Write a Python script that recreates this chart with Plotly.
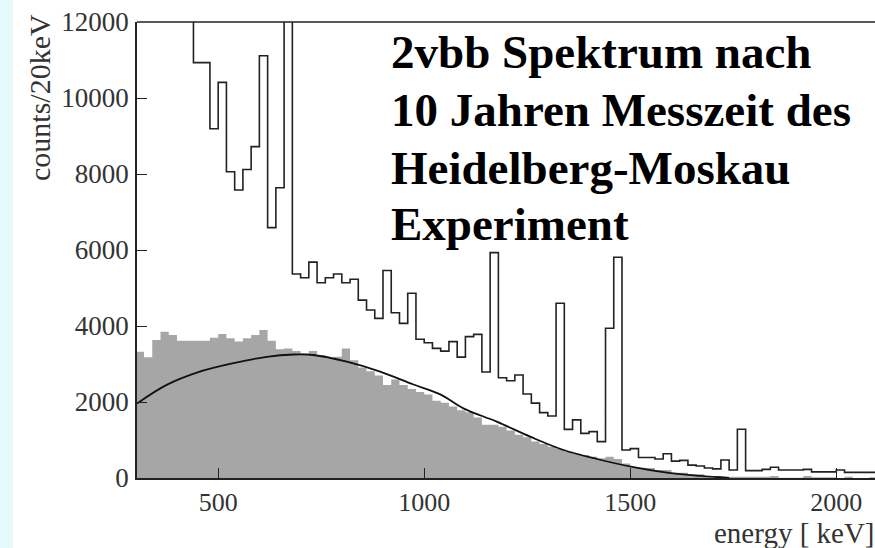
import plotly.graph_objects as go

# ---------------- data ----------------
bin_width = 20
bin_lo = list(range(300, 2100, 20))  # lower bin edges in keV

# total measured spectrum (open histogram); bins above 12000 are off scale
total_counts = [
    15000, 15000, 15000, 15000, 15000, 15000, 15000,          # 300-420 (off scale)
    10930, 10930, 9190, 10410, 8060, 7580, 8120, 8720,        # 440-580
    11110, 6590, 7640, 15000,                                 # 600-660
    5370, 5270, 5680, 5140, 5270, 5370, 5140, 5230,           # 680-820
    4680, 4420, 4200, 5460, 4350, 4070, 4860, 3650,           # 840-980
    3560, 3410, 3340, 3590, 3180, 3720, 3780, 2790,           # 1000-1140
    5930, 2640, 2560, 2710, 2210, 1970, 1720, 1630,           # 1160-1300
    4600, 1280, 1530, 1175, 1220, 956, 3940, 5810,            # 1320-1460
    737, 772, 540, 540, 500, 640, 445, 465,                   # 1480-1620
    340, 316, 265, 240, 474, 211, 1281, 193,                  # 1640-1780
    193, 228, 281, 211, 211, 211, 228, 160,                   # 1800-1940
    160, 160, 211, 149, 149, 149, 149,                        # 1960-2080
]

# 2vbb spectrum after background subtraction (grey histogram)
twonu_counts = [
    3320, 3180, 3630, 3850, 3760, 3610, 3610, 3610,           # 300-440
    3610, 3690, 3790, 3675, 3590, 3675, 3760, 3895,           # 460-600
    3610, 3390, 3410, 3340, 3280, 3340, 3240, 3150,           # 620-760
    3190, 3410, 3100, 2910, 2810, 2700, 2450, 2590,           # 780-920
    2450, 2340, 2260, 2200, 2030, 1980, 1880, 1780,           # 940-1080
    1730, 1590, 1400, 1400, 1350, 1250, 1140, 1070,           # 1100-1240
    960, 895, 825, 760, 693, 640, 605, 560,                   # 1260-1400
    520, 560, 500, 380, 281, 270, 260, 211,                   # 1420-1560
    211, 140, 140, 96, 96, 53, 53, 35,                        # 1580-1720
    35, 35, 35, 35, 35, 53, 9, 9,                             # 1740-1880
    9, 53, 20, 20, 20, 0, 35, 0,                              # 1900-2040
    0, 20,                                                    # 2060-2080
]

# theoretical 2vbb shape (smooth curve), sampled points
curve_energy = [303, 375, 450, 537, 618, 683, 731, 812, 893, 974, 1039,
                1095, 1176, 1257, 1338, 1419, 1508, 1589, 1670, 1740]
curve_counts = [1960, 2450, 2780, 3020, 3190, 3250, 3237, 3060, 2800, 2460, 2200,
                1833, 1482, 1088, 737, 500, 285, 140, 55, 5]

x_ticks = [500, 1000, 1500, 2000]
y_ticks = [0, 2000, 4000, 6000, 8000, 10000, 12000]
y_tick_text = ["0", "2000", "4000", "6000", "8000", "10000", "12000"]
x_tick_text = ["500", "1000", "1500", "2000"]

title_lines = ["2vbb Spektrum nach", "10 Jahren Messzeit des",
               "Heidelberg-Moskau", "Experiment"]

# ---------------- figure ----------------
W, H = 875, 548
ML, MT, MR, MB = 137, 22, 0, 70
PW, PH = W - ML - MR, H - MT - MB


def px(x):
    return (x - ML) / PW


def py(y):
    return 1 - (y - MT) / PH


edges = bin_lo + [bin_lo[-1] + bin_width]

fig = go.Figure()

fig.add_trace(go.Scatter(
    x=edges, y=twonu_counts + [twonu_counts[-1]],
    mode="lines", line=dict(shape="hv", width=0, color="#a6a6a6"),
    fill="tozeroy", fillcolor="#a6a6a6", hoverinfo="skip", showlegend=False,
))

fig.add_trace(go.Scatter(
    x=curve_energy, y=curve_counts, mode="lines",
    line=dict(shape="spline", width=1.8, color="#111111"),
    showlegend=False,
))

fig.add_trace(go.Scatter(
    x=edges, y=total_counts + [total_counts[-1]], mode="lines",
    line=dict(shape="hv", width=1.6, color="#222222"),
    showlegend=False,
))

serif = "Liberation Serif, Times New Roman, serif"

fig.update_layout(
    width=W, height=H,
    margin=dict(l=ML, r=MR, t=MT, b=MB),
    paper_bgcolor="white", plot_bgcolor="white",
    showlegend=False,
    font=dict(family=serif, color="#222222"),
    xaxis=dict(
        range=[303, 2094], tickvals=x_ticks, ticktext=x_tick_text,
        ticks="inside", ticklen=10,
        tickwidth=1.3, tickcolor="#222222",
        showline=True, linecolor="#222222", linewidth=1.6,
        showgrid=False, zeroline=False,
        tickfont=dict(family=serif, size=26, color="#333333"),
        ticklabelstandoff=0,
    ),
    yaxis=dict(
        range=[0, 12000], tickvals=y_ticks, ticktext=y_tick_text,
        ticks="inside", ticklen=10,
        tickwidth=1.3, tickcolor="#222222",
        showline=True, linecolor="#222222", linewidth=1.6,
        showgrid=False, zeroline=False,
        tickfont=dict(family=serif, size=27, color="#333333"),
        ticklabelstandoff=1,
    ),
    shapes=[
        dict(type="rect", xref="paper", yref="paper",
             x0=px(-2), x1=px(13), y0=py(H + 5), y1=py(-5),
             fillcolor="#e6fafd", line=dict(width=0), layer="below"),
        dict(type="line", xref="paper", yref="paper",
             x0=0, x1=1, y0=1, y1=1,
             line=dict(color="#222222", width=1.6)),
    ],
    annotations=[
        dict(text="counts/20keV", textangle=-90, xref="paper", yref="paper",
             x=px(40), y=py(98), xanchor="center", yanchor="middle",
             showarrow=False, font=dict(family=serif, size=30, color="#333333")),
        dict(text="energy [ keV]", xref="paper", yref="paper",
             x=px(877), y=py(533), xanchor="right", yanchor="middle",
             showarrow=False, font=dict(family=serif, size=29, color="#333333")),
    ] + [
        dict(text="<b>%s</b>" % line, xref="paper", yref="paper",
             x=px(389), y=py(base), xanchor="left", yanchor="middle",
             showarrow=False, font=dict(family=serif, size=47, color="black"))
        for line, base in zip(title_lines, [52, 110, 168, 224])
    ],
)

fig.write_html("out.html",
               config={"displayModeBar": False},
               post_script="document.body.style.margin='0';"
                           "document.body.style.overflow='hidden';")
